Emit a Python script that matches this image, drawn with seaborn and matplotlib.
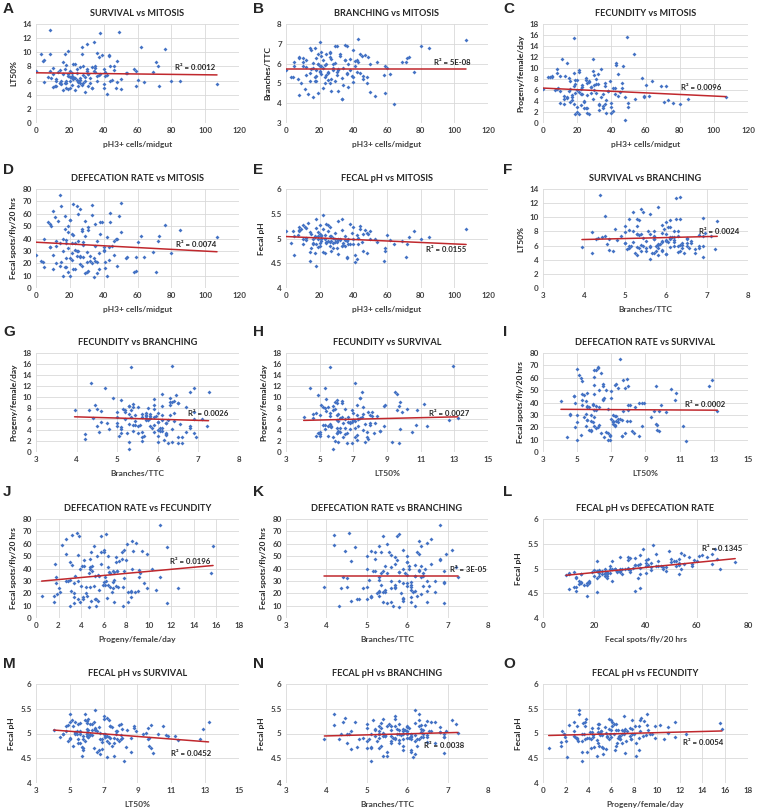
import pandas as pd
import seaborn as sns
import matplotlib.pyplot as plt

# one value per genotype line, all six traits aligned by index
mitosis = [20, 35, 12, 28, 44, 17, 8, 25, 31, 19, 40, 22, 15, 48, 36, 10, 27, 59, 21, 33,
           18, 42, 5, 24, 30, 14, 49, 18, 8, 38, 107, 85, 80, 76, 73, 72, 71, 69, 64, 62,
           60, 59, 58, 54, 53, 50, 50, 48, 47, 46, 45, 43, 43, 42, 41, 40, 39, 37, 36, 35,
           34, 33, 32, 31, 30, 29, 29, 28, 27, 26, 26, 25, 24, 23, 22, 22, 21, 21, 20, 20,
           19, 19, 18, 18, 17, 16, 16, 15, 14, 14, 13, 12, 11, 10, 10, 9, 8, 7, 5, 4,
           3, 0, 23, 24, 27, 28, 30, 32, 33, 35, 36, 37, 38, 40, 41, 44, 26, 20, 17, 21,
           25, 29, 16, 34, 19, 23, 31, 12, 46, 26]
branching = [5.9, 6.2, 5.4, 5.7, 6.5, 5.1, 6.3, 5.6, 4.6, 6.0, 5.3, 5.8, 6.7, 5.0, 5.5, 6.1, 5.2, 5.9, 6.4, 4.2,
             5.7, 6.2, 5.9, 5.4, 6.9, 5.1, 6.35, 5.35, 4.4, 6.25, 7.2, 6.8, 6.9, 5.6, 6.35, 6.3, 6.1, 6.1, 3.95, 5.45,
             5.8, 4.5, 5.4, 6.1, 4.35, 6.0, 4.55, 5.3, 6.45, 5.2, 6.4, 7.25, 6.1, 5.6, 6.15, 6.7, 5.35, 4.8, 6.9, 6.95,
             5.8, 4.2, 6.5, 5.7, 5.4, 6.9, 5.1, 5.8, 6.25, 5.0, 6.6, 5.5, 6.0, 5.3, 6.2, 4.75, 5.9, 6.6, 7.1, 5.6,
             4.5, 6.0, 5.1, 6.3, 5.3, 4.3, 6.05, 5.75, 6.8, 5.5, 4.45, 5.85, 4.7, 5.9, 6.3, 5.0, 6.35, 5.2, 6.1, 5.3,
             5.3, 5.7, 5.0, 6.5, 4.6, 6.0, 5.6, 6.4, 5.25, 6.2, 5.45, 6.0, 5.7, 5.05, 5.9, 5.55, 6.35, 5.65, 6.8, 5.45,
             5.15, 6.05, 5.8, 4.9, 6.5, 5.95, 5.75, 6.2, 5.35, 6.55]
survival = [6.5, 7.2, 5.3, 8.1, 6.0, 9.8, 7.4, 5.8, 6.9, 4.8, 7.7, 6.2, 5.5, 8.8, 6.6, 7.0, 10.8, 5.2, 6.3, 7.9,
            5.0, 6.8, 8.9, 6.1, 7.3, 5.7, 12.9, 5.6, 13.2, 12.7, 5.5, 6.0, 6.0, 10.5, 5.3, 8.0, 8.6, 7.2, 5.8, 10.7,
            6.1, 7.3, 7.6, 7.1, 7.1, 4.8, 6.2, 5.8, 4.9, 8.1, 6.1, 9.5, 9.6, 4.05, 7.2, 5.0, 9.6, 6.8, 9.9, 7.8,
            11.4, 5.0, 6.3, 7.0, 11.2, 4.4, 6.0, 5.6, 9.7, 7.9, 6.4, 5.2, 7.6, 4.6, 6.5, 8.3, 5.4, 6.6, 7.3, 5.9,
            10.2, 6.7, 8.2, 5.9, 7.7, 6.9, 8.6, 6.0, 7.5, 5.7, 7.2, 6.2, 5.3, 7.8, 5.1, 6.3, 9.8, 6.5, 5.8, 8.8,
            9.7, 7.4, 6.4, 7.1, 5.4, 6.8, 7.6, 5.6, 4.9, 8.0, 6.0, 9.3, 7.0, 5.5, 6.7, 8.0, 6.1, 5.0, 5.6, 7.1,
            5.9, 6.5, 4.6, 7.4, 6.9, 8.4, 5.3, 6.0, 7.5, 5.6]
fecundity = [7.8, 3.1, 5.0, 6.6, 8.9, 4.2, 9.8, 2.7, 5.5, 7.1, 1.8, 6.2, 8.2, 4.8, 3.4, 5.9, 7.6, 4.9, 9.2, 2.3,
             6.8, 5.3, 8.5, 3.8, 6.0, 4.5, 15.7, 15.5, 6.1, 5.8, 4.8, 4.3, 3.4, 3.7, 4.1, 6.8, 3.9, 6.8, 7.7, 5.0,
             6.9, 4.8, 8.2, 4.4, 12.6, 3.0, 3.6, 0.5, 10.3, 7.2, 5.6, 11.0, 10.6, 6.4, 2.1, 3.7, 7.6, 4.2, 7.2, 2.7,
             4.7, 3.2, 9.0, 7.1, 8.8, 11.6, 9.4, 6.5, 1.6, 7.3, 2.7, 8.1, 4.0, 6.9, 3.2, 5.2, 9.6, 1.7, 6.0, 2.0,
             7.8, 5.4, 3.4, 9.1, 5.1, 7.7, 3.9, 5.8, 11.0, 4.7, 8.6, 4.4, 11.6, 3.7, 8.5, 6.4, 9.1, 6.0, 8.4, 8.4,
             8.4, 6.1, 5.3, 2.8, 7.4, 5.5, 6.9, 7.1, 3.4, 5.2, 6.7, 1.8, 5.8, 3.0, 6.3, 4.9, 1.9, 3.0, 4.8, 5.6,
             7.8, 4.3, 6.2, 9.8, 1.6, 6.6, 8.0, 3.5, 6.4, 5.1]
defecation = [55, 22, 38, 25, 61, 17, 52, 30, 14, 45, 33, 68, 21, 40, 12, 27, 48, 14, 36, 59,
              24, 10, 40, 66, 29, 18, 58, 36, 33, 53, 41, 47, 28, 51, 42, 38, 13, 29, 25, 42,
              37, 25, 13, 25, 24, 45, 69, 18, 40, 38, 34, 33, 23, 41, 21, 30, 53, 15, 38, 52,
              9, 67, 22, 49, 21, 12, 54, 37, 18, 25, 64, 60, 26, 31, 43, 15, 28, 44, 55, 24,
              32, 50, 17, 39, 58, 10, 40, 66, 75, 36, 54, 20, 57, 15, 62, 50, 33, 53, 17, 21,
              22, 27, 15, 30, 46, 35, 13, 26, 20, 34, 21, 28, 44, 31, 16, 53, 19, 10, 48, 23,
              38, 42, 30, 24, 13, 36, 47, 34, 27, 26]
fecal_ph = [5.10, 4.85, 5.02, 4.90, 5.25, 4.70, 5.15, 4.95, 4.68, 5.05, 5.00, 5.20, 4.80, 5.12, 4.62, 4.98, 4.95, 4.75, 5.08, 5.18,
            4.88, 4.58, 5.05, 5.30, 4.92, 4.72, 5.10, 5.21, 5.23, 4.88, 5.19, 5.04, 5.00, 5.15, 5.03, 4.88, 4.62, 4.95, 4.88, 4.97,
            5.08, 4.80, 4.55, 4.92, 4.98, 5.15, 5.00, 4.70, 5.18, 5.10, 4.93, 5.02, 4.89, 5.08, 4.53, 5.24, 5.12, 4.88, 4.60, 5.05,
            4.86, 5.40, 4.97, 5.35, 4.94, 4.92, 4.98, 4.80, 4.75, 4.84, 5.23, 5.16, 4.91, 4.99, 5.47, 4.73, 5.00, 5.06, 5.27, 4.85,
            4.98, 5.13, 4.45, 5.40, 5.06, 4.88, 4.90, 5.09, 5.14, 4.54, 5.32, 4.96, 5.23, 4.88, 5.28, 5.19, 5.18, 5.08, 4.67, 5.15,
            4.90, 5.16, 4.70, 4.93, 5.05, 5.02, 4.80, 4.99, 4.85, 4.97, 4.94, 4.99, 5.29, 4.88, 4.67, 5.20, 4.93, 4.90, 5.03, 4.95,
            5.28, 5.11, 5.00, 4.90, 4.83, 5.07, 4.98, 5.21, 4.75, 5.06]

df = pd.DataFrame({"mit": mitosis, "br": branching, "lt": survival,
                   "fec": fecundity, "def": defecation, "ph": fecal_ph})

# axis label and limits for each trait (as x, as y)
labels = {"mit": "pH3+ cells/midgut", "br": "Branches/TTC", "lt": "LT50%",
          "fec": "Progeny/female/day", "def": "Fecal spots/fly/20 hrs", "ph": "Fecal pH"}
x_lims = {"mit": (0, 120, 20), "br": (3, 8, 1), "lt": (3, 15, 2), "fec": (0, 18, 2), "def": (0, 80, 20)}
y_lims = {"lt": (0, 14, 2), "br": (3, 8, 1), "fec": (0, 18, 2), "def": (0, 80, 10), "ph": (4, 6, 0.5)}

# letter, y trait, x trait, title, R² label, trend slope, trend intercept, label x, label y
panels = [
    ("A", "lt", "mit", "SURVIVAL vs MITOSIS", "0.0012", -0.0028, 7.1, 82, 7.9),
    ("B", "br", "mit", "BRANCHING vs MITOSIS", "5E-08", 0.0, 5.75, 88, 6.05),
    ("C", "fec", "mit", "FECUNDITY vs MITOSIS", "0.0096", -0.0145, 6.35, 80.5, 6.5),
    ("D", "def", "mit", "DEFECATION RATE vs MITOSIS", "0.0074", -0.072, 37.0, 83, 35),
    ("E", "ph", "mit", "FECAL pH vs MITOSIS", "0.0155", -0.0015, 5.04, 83, 4.77),
    ("F", "lt", "br", "SURVIVAL vs BRANCHING", "0.0024", 0.138, 6.305, 6.8, 8.0),
    ("G", "fec", "br", "FECUNDITY vs BRANCHING", "0.0026", -0.215, 7.25, 6.75, 7.0),
    ("H", "fec", "lt", "FECUNDITY vs SURVIVAL", "0.0027", 0.071, 5.46, 11.5, 7.0),
    ("I", "def", "lt", "DEFECATION RATE vs SURVIVAL", "0.0002", -0.077, 34.8, 11.3, 38.5),
    ("J", "def", "fec", "DEFECATION RATE vs FECUNDITY", "0.0196", 0.83, 29.4, 11.9, 46),
    ("K", "def", "br", "DEFECATION RATE vs BRANCHING", "3E-05", 0.0, 34.0, 7.07, 39),
    ("L", "ph", "def", "FECAL pH vs DEFECATION RATE", "0.1345", 0.0051, 4.817, 62, 5.4),
    ("M", "ph", "lt", "FECAL pH vs SURVIVAL", "0.0452", -0.0262, 5.176, 11.0, 4.6),
    ("N", "ph", "br", "FECAL pH vs BRANCHING", "0.0038", 0.0215, 4.865, 6.42, 4.75),
    ("O", "ph", "fec", "FECAL pH vs FECUNDITY", "0.0054", 0.006, 4.957, 12.3, 4.82),
]

W, H = 757, 811
sns.set_style("white")
plt.rcParams['font.family'] = ['Lato', 'DejaVu Sans']
fig = plt.figure(figsize=(W / 100, H / 100), dpi=100)

col_left = [36, 286, 543]
col_right = [239, 488, 748]
letter_x = [3, 253, 503]
row_top = [24, 189, 353, 519, 684]
letter_y = [9, 170, 332, 492, 664]
plot_h = 99

for i, (letter, yv, xv, title, r2, slope, icpt, lx, ly) in enumerate(panels):
    r, c = divmod(i, 3)
    left, right, top = col_left[c], col_right[c], row_top[r]
    ax = fig.add_axes([left / W, 1 - (top + plot_h) / H, (right - left) / W, plot_h / H])

    sns.scatterplot(data=df, x=xv, y=yv, ax=ax, color="#4472C4", s=4,
                    linewidth=0, marker="D", zorder=3)

    # linear trend line
    x0, x1 = df[xv].min(), df[xv].max()
    ax.plot([x0, x1], [icpt + slope * x0, icpt + slope * x1], color="#C0282D", lw=1.1, zorder=4)
    ax.text(lx, ly, "R² = " + r2, fontsize=5.6, fontweight="bold", color="#262626",
            va="center", ha="left", zorder=5)

    xa, xb, xs = x_lims[xv]
    ya, yb, ys = y_lims[yv]
    ax.set_xlim(xa, xb)
    ax.set_ylim(ya, yb)
    xt = [xa + k * xs for k in range(int(round((xb - xa) / xs)) + 1)]
    yt = [ya + k * ys for k in range(int(round((yb - ya) / ys)) + 1)]
    ax.set_xticks(xt)
    ax.set_yticks(yt)
    ax.set_xticklabels([f"{t:g}" for t in xt])
    ax.set_yticklabels([f"{t:g}" for t in yt])
    ax.grid(True, color="#D9D9D9", lw=0.6)
    ax.set_axisbelow(True)
    for sp in ax.spines.values():
        sp.set_visible(False)
    ax.tick_params(length=0, labelsize=5.8, colors="#404040", pad=3)
    for lab in ax.get_xticklabels() + ax.get_yticklabels():
        lab.set_fontweight("bold")

    ax.set_xlabel(labels[xv], fontsize=6, fontweight="bold", color="#404040", labelpad=5)
    ax.set_ylabel(labels[yv], fontsize=6, fontweight="bold", color="#262626", labelpad=4)
    ax.set_title(title, fontsize=6.6, fontweight="bold", color="#262626", pad=6)

    fig.text(letter_x[c] / W, 1 - letter_y[r] / H, letter, fontsize=11, fontweight="bold",
             family=["Liberation Sans", "DejaVu Sans"], va="center", ha="left")

fig.savefig("out.png", dpi=100)
